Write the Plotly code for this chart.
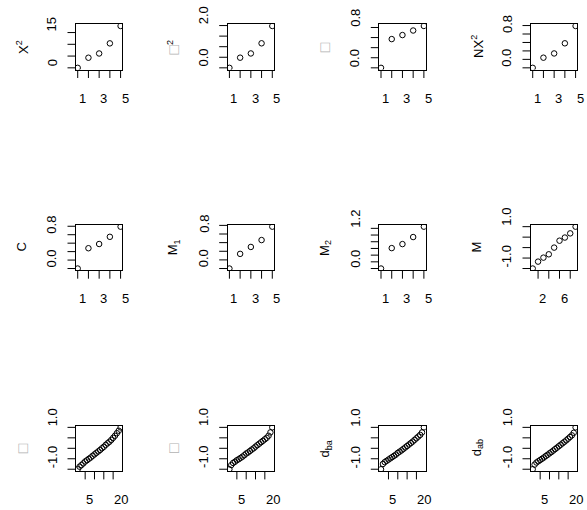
import plotly.graph_objects as go

W, H = 587, 510
FONT = "Liberation Sans, Arial, Helvetica, sans-serif"
TOFU = "#b3b3b3"

# ---------------- data ----------------
x5 = [1, 2, 3, 4, 5]
x9 = [1, 2, 3, 4, 5, 6, 7, 8, 9]
x24 = [1, 2, 3, 4, 5, 6, 7, 8, 9, 10, 11, 12, 13, 14, 15, 16, 17, 18, 19, 20, 21, 22, 23, 24]

chi2 = [0.0, 4.3, 6.1, 10.4, 17.8]
phi2 = [0.0, 0.48, 0.68, 1.16, 1.98]
phi = [0.0, 0.57, 0.65, 0.74, 0.83]
nchi2 = [0.0, 0.24, 0.34, 0.58, 0.99]
cc = [0.0, 0.48, 0.58, 0.75, 0.99]
m1 = [0.0, 0.34, 0.50, 0.66, 0.97]
m2 = [0.0, 0.61, 0.73, 0.94, 1.25]
mm = [-1.0, -0.67, -0.48, -0.32, 0.0, 0.33, 0.48, 0.68, 1.0]

r3a = [-1.00, -0.88, -0.80, -0.72, -0.63, -0.57, -0.50, -0.44, -0.36, -0.29, -0.22, -0.15,
       -0.08, 0.00, 0.07, 0.16, 0.24, 0.31, 0.40, 0.50, 0.60, 0.72, 0.84, 1.00]
r3b = [-1.00, -0.80, -0.70, -0.64, -0.57, -0.52, -0.46, -0.40, -0.33, -0.25, -0.20, -0.13,
       -0.06, 0.00, 0.08, 0.15, 0.22, 0.29, 0.36, 0.43, 0.50, 0.60, 0.76, 1.00]
dba = [-1.00, -0.75, -0.66, -0.60, -0.54, -0.48, -0.42, -0.36, -0.30, -0.22, -0.16, -0.10,
       -0.03, 0.04, 0.11, 0.18, 0.25, 0.32, 0.40, 0.48, 0.56, 0.64, 0.76, 1.00]
dab = [-1.00, -0.78, -0.68, -0.62, -0.56, -0.50, -0.44, -0.37, -0.31, -0.24, -0.18, -0.11,
       -0.04, 0.03, 0.10, 0.17, 0.24, 0.31, 0.38, 0.46, 0.54, 0.62, 0.74, 1.00]

TOFU_GLYPH = f"<span style='color:{TOFU};font-size:16px'>□</span>"
titles = [
    "X<sup>2</sup>",
    TOFU_GLYPH + "<sup>2</sup>",
    TOFU_GLYPH,
    "NX<sup>2</sup>",
    "C",
    "M<sub>1</sub>",
    "M<sub>2</sub>",
    "M",
    TOFU_GLYPH,
    TOFU_GLYPH,
    "d<sub>ba</sub>",
    "d<sub>ab</sub>",
]

xt5_vals = [1, 2, 3, 4, 5]
xt5_text = ["1", "", "3", "", "5"]
xt9_vals = [2, 4, 6, 8]
xt9_text = ["2", "", "6", ""]
xt24_vals = [5, 10, 15, 20]
xt24_text = ["5", "", "", "20"]

yt_chi = [0, 5, 10, 15];             yl_chi = ["0", "", "", "15"]
yt_phi2 = [0, 0.5, 1.0, 1.5, 2.0];   yl_phi2 = ["0.0", "", "", "", "2.0"]
yt_08 = [0, 0.2, 0.4, 0.6, 0.8];     yl_08 = ["0.0", "", "", "", "0.8"]
yt_10 = [0, 0.2, 0.4, 0.6, 0.8, 1.0]; yl_10 = ["0.0", "", "", "", "0.8", ""]
yt_12 = [0, 0.2, 0.4, 0.6, 0.8, 1.0, 1.2]; yl_12 = ["0.0", "", "", "", "", "", "1.2"]
yt_m = [-1.0, -0.5, 0.0, 0.5, 1.0];  yl_m = ["-1.0", "", "", "", "1.0"]

panels = [
    (x5, chi2, xt5_vals, xt5_text, yt_chi, yl_chi),
    (x5, phi2, xt5_vals, xt5_text, yt_phi2, yl_phi2),
    (x5, phi, xt5_vals, xt5_text, yt_08, yl_08),
    (x5, nchi2, xt5_vals, xt5_text, yt_10, yl_10),
    (x5, cc, xt5_vals, xt5_text, yt_10, yl_10),
    (x5, m1, xt5_vals, xt5_text, yt_10, yl_10),
    (x5, m2, xt5_vals, xt5_text, yt_12, yl_12),
    (x9, mm, xt9_vals, xt9_text, yt_m, yl_m),
    (x24, r3a, xt24_vals, xt24_text, yt_m, yl_m),
    (x24, r3b, xt24_vals, xt24_text, yt_m, yl_m),
    (x24, dba, xt24_vals, xt24_text, yt_m, yl_m),
    (x24, dab, xt24_vals, xt24_text, yt_m, yl_m),
]

# ---------------- layout ----------------
COL_L = [76.0, 227.7, 379.3, 531.0]
ROW_T = [24.3, 225.0, 425.7]
BW, BH = 46.3, 45.2
TICKLEN = 8
FS = 13
NP = len(panels)


def pad_range(v):
    lo, hi = min(v), max(v)
    r = hi - lo
    return [lo - 0.04 * r, hi + 0.04 * r]


def axname(prefix, k):
    return prefix if k == 1 else f"{prefix}{k}"


fig = go.Figure()
annotations = []

for i, (xs, ys, xtv, xtt, ytv, ytl) in enumerate(panels):
    n = i + 1
    row, col = divmod(i, 4)
    L = COL_L[col]
    T = ROW_T[row]
    B = T + BH
    xa, ya = axname("x", n), axname("y", n)
    # helper axes that hold the tick marks just outside the frame
    xt_a, yt_a = f"x{NP + n}", f"y{NP + n}"

    fig.add_trace(go.Scatter(
        x=xs, y=ys, mode="markers", xaxis=xa, yaxis=ya, showlegend=False,
        marker=dict(symbol="circle-open", size=5.5, color="black",
                    line=dict(width=1, color="black")),
        hoverinfo="skip",
    ))

    # bottom tick marks: shared x scale, thin helper y band under the frame
    fig.add_trace(go.Scatter(
        x=xtv, y=[0.5] * len(xtv), mode="markers", xaxis=xa, yaxis=yt_a,
        showlegend=False, hoverinfo="skip", cliponaxis=False,
        marker=dict(symbol="line-ns-open", size=TICKLEN / 1.4, color="black",
                    line=dict(width=1, color="black")),
    ))
    # left tick marks: shared y scale, thin helper x band left of the frame
    fig.add_trace(go.Scatter(
        x=[0.5] * len(ytv), y=ytv, mode="markers", xaxis=xt_a, yaxis=ya,
        showlegend=False, hoverinfo="skip", cliponaxis=False,
        marker=dict(symbol="line-ew-open", size=TICKLEN / 1.4, color="black",
                    line=dict(width=1, color="black")),
    ))

    common = dict(showgrid=False, zeroline=False, showline=True, mirror=True,
                  linecolor="black", linewidth=1, ticks="", showticklabels=False,
                  fixedrange=True)
    fig.layout[axname("xaxis", n)] = dict(domain=[L / W, (L + BW) / W], range=pad_range(xs),
                                         anchor=ya, **common)
    fig.layout[axname("yaxis", n)] = dict(domain=[1 - B / H, 1 - T / H], range=pad_range(ys),
                                         anchor=xa, **common)
    fig.layout[f"yaxis{NP + n}"] = dict(domain=[1 - (B + TICKLEN + 0.5) / H, 1 - (B + 0.5) / H],
                                        range=[0, 1], visible=False, anchor=xa, fixedrange=True)
    fig.layout[f"xaxis{NP + n}"] = dict(domain=[(L - TICKLEN - 0.5) / W, (L - 0.5) / W],
                                        range=[0, 1], visible=False, anchor=ya, fixedrange=True)

    # x tick labels (drawn starting at the tick)
    for v, t in zip(xtv, xtt):
        if t:
            annotations.append(dict(
                x=v, xref=xa, y=1 - (B + 20) / H, yref="paper",
                xanchor="left", yanchor="top", text=t, showarrow=False,
                borderpad=0, font=dict(family=FONT, size=FS, color="black")))
    # y tick labels (rotated, drawn starting at the tick)
    for v, t in zip(ytv, ytl):
        if t:
            annotations.append(dict(
                y=v, yref=ya, x=(L - 24) / W, xref="paper",
                xanchor="center", yanchor="bottom", textangle=-90, text=t,
                showarrow=False, borderpad=0,
                font=dict(family=FONT, size=FS, color="black")))
    # y axis title
    annotations.append(dict(
        x=(L - 54) / W, xref="paper", y=1 - (T + BH / 2) / H, yref="paper",
        xanchor="center", yanchor="middle", textangle=-90, text=titles[i],
        showarrow=False, borderpad=0,
        font=dict(family=FONT, size=FS, color="black")))

fig.update_layout(
    width=W, height=H, margin=dict(l=0, r=0, t=0, b=0),
    paper_bgcolor="white", plot_bgcolor="rgba(0,0,0,0)",
    font=dict(family=FONT, size=FS, color="black"),
    annotations=annotations, showlegend=False,
)

fig.write_html("out.html", include_plotlyjs=True, config={"displayModeBar": False})
